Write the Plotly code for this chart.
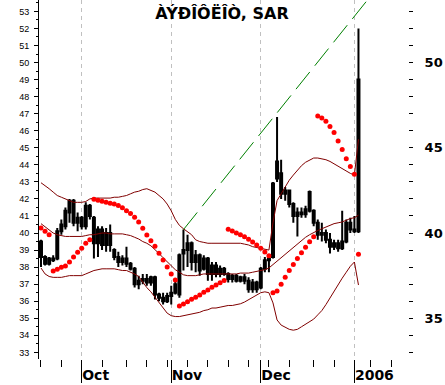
import plotly.graph_objects as go

title_text = "ÀÝÐÎÔËÎÒ, SAR"

opens = [39.5, 38.6, 38.2, 38.5, 38.5, 40.1, 40.4, 41.2, 41.9, 40.6,
         40.9, 40.4, 41.6, 40.9, 39.4, 40.2, 39.3, 40.0, 39.0, 38.6,
         38.3, 38.5, 38.2, 37.9, 37.0, 37.2, 37.3, 37.1, 37.4, 36.4,
         36.2, 36.0, 36.3, 36.5, 36.4, 38.8, 39.0, 39.4, 38.3, 38.7,
         37.9, 38.5, 37.6, 38.1, 37.6, 37.9, 37.6, 37.3, 37.5, 37.2,
         37.4, 37.2, 36.7, 37.1, 36.8, 37.9, 38.4, 38.6, 44.2, 43.5,
         42.3, 42.5, 41.7, 41.0, 41.2, 41.1, 42.4, 41.3, 40.6, 39.9,
         40.0, 39.6, 39.2, 39.4, 39.1, 39.5, 40.6, 40.2, 40.1]
highs = [39.6, 38.7, 38.6, 38.7, 40.3, 40.8, 41.5, 42.0, 42.0, 41.2,
         41.0, 41.8, 41.7, 41.0, 40.4, 40.4, 40.3, 40.5, 39.1, 38.9,
         38.7, 39.2, 38.3, 38.0, 37.5, 37.6, 37.6, 37.5, 37.5, 36.5,
         36.5, 36.5, 36.9, 37.2, 38.8, 40.2, 39.9, 39.5, 39.0, 38.8,
         38.7, 38.6, 38.3, 38.3, 38.1, 38.0, 37.7, 37.6, 37.6, 37.5,
         37.6, 37.4, 37.3, 37.2, 38.0, 38.6, 38.6, 43.0, 46.8, 44.3,
         42.7, 42.5, 41.8, 41.5, 41.5, 41.6, 42.5, 41.4, 40.8, 40.6,
         40.2, 40.0, 39.6, 39.6, 41.3, 40.8, 40.9, 41.0, 52.0]
lows = [38.0, 38.1, 38.1, 38.3, 38.4, 39.9, 40.2, 40.6, 40.4, 40.1,
        40.2, 40.2, 40.8, 38.5, 38.6, 39.0, 38.9, 38.9, 38.4, 38.0,
        38.1, 38.0, 37.8, 36.8, 36.7, 37.0, 36.9, 36.9, 36.1, 36.0,
        35.8, 35.9, 35.8, 36.4, 36.2, 37.8, 38.0, 37.8, 37.7, 37.5,
        37.8, 37.2, 37.2, 37.4, 37.4, 37.5, 37.1, 37.1, 37.1, 37.1,
        37.0, 36.5, 36.5, 36.5, 36.7, 37.7, 37.7, 38.5, 43.0, 42.0,
        41.9, 41.5, 40.6, 39.8, 40.9, 40.9, 41.2, 40.4, 39.6, 39.5,
        39.4, 38.8, 39.0, 38.9, 39.0, 39.4, 40.0, 40.0, 40.0]
closes = [38.6, 38.2, 38.5, 38.4, 40.1, 40.5, 41.3, 41.9, 40.6, 40.9,
          40.4, 41.6, 41.0, 39.4, 40.2, 39.3, 40.0, 39.3, 38.6, 38.3,
          38.5, 38.2, 37.9, 37.0, 37.2, 37.3, 37.1, 37.4, 36.4, 36.2,
          36.0, 36.3, 36.5, 37.0, 38.7, 39.0, 39.4, 38.3, 38.7, 37.8,
          38.5, 37.6, 38.1, 37.6, 37.9, 37.6, 37.3, 37.5, 37.2, 37.4,
          37.2, 36.7, 37.1, 36.7, 37.9, 38.4, 38.5, 42.9, 43.2, 42.3,
          42.5, 41.7, 41.0, 41.2, 41.1, 41.4, 41.3, 40.6, 39.9, 40.0,
          39.6, 39.2, 39.4, 39.1, 39.5, 40.6, 40.2, 40.1, 49.0]

bb_upper = [42.95, 42.8, 42.6, 42.4, 42.2, 42.1, 42.0, 41.9, 41.8, 41.8,
            41.8, 41.85, 42.0, 42.05, 42.05, 42.05, 42.05, 42.05, 42.1, 42.1,
            42.15, 42.2, 42.3, 42.4, 42.45, 42.55, 42.6, 42.5, 42.4, 42.2,
            42.0, 41.7, 41.3, 40.8, 40.45, 40.25, 40.1, 39.9, 39.6, 39.5,
            39.45, 39.4, 39.4, 39.4, 39.4, 39.4, 39.4, 39.4, 39.4, 39.4,
            39.35, 39.3, 39.2, 39.15, 39.1, 39.05, 39.0, 40.6, 41.9, 42.3,
            42.7, 43.1, 43.4, 43.7, 43.95, 44.15, 44.3, 44.4, 44.4, 44.35,
            44.3, 44.2, 44.05, 43.95, 43.8, 43.6, 43.5, 43.4, 45.5]
bb_middle = [40.55, 40.35, 40.15, 40.0, 39.9, 39.85, 39.8, 39.8, 39.8, 39.8,
             39.8, 39.85, 39.9, 39.9, 39.95, 40.0, 40.0, 39.95, 39.95, 39.95,
             39.95, 39.9, 39.85, 39.75, 39.65, 39.5, 39.4, 39.25, 39.05, 38.8,
             38.55, 38.3, 38.05, 37.85, 37.7, 37.55, 37.5, 37.5, 37.5, 37.55,
             37.6, 37.6, 37.6, 37.6, 37.6, 37.6, 37.6, 37.6, 37.6, 37.65,
             37.65, 37.65, 37.7, 37.75, 37.8, 37.85, 37.95, 38.15, 38.4, 38.6,
             38.8, 39.0, 39.2, 39.4, 39.6, 39.75, 39.9, 40.05, 40.15, 40.25,
             40.35, 40.45, 40.55, 40.6, 40.65, 40.75, 40.85, 40.9, 41.05]
bb_lower = [37.95, 37.6, 37.45, 37.4, 37.4, 37.4, 37.45, 37.5, 37.5, 37.5,
            37.5, 37.6, 37.7, 37.8, 37.85, 37.9, 37.9, 37.9, 37.9, 37.85,
            37.8, 37.8, 37.7, 37.6, 37.45, 37.1, 36.8, 36.55, 36.25, 35.9,
            35.6, 35.3, 35.15, 35.1, 35.1, 35.15, 35.2, 35.25, 35.3, 35.35,
            35.45, 35.5, 35.6, 35.6, 35.65, 35.7, 35.75, 35.75, 35.8, 35.85,
            35.95, 36.1, 36.25, 36.35, 36.5, 36.55, 36.5, 35.9, 34.9, 34.6,
            34.45, 34.35, 34.3, 34.35, 34.5, 34.65, 34.8, 34.95, 35.2, 35.45,
            35.8, 36.2, 36.6, 37.0, 37.35, 37.7, 38.05, 38.3, 36.95]

sar = [40.3, 40.1, 39.9,
       37.77, 37.87, 37.99, 38.06, 38.3, 38.6, 38.87, 39.1, 39.4, 39.6,
       41.98, 41.92, 41.86, 41.8, 41.75, 41.7, 41.62, 41.48, 41.3, 41.15,
       40.92, 40.65, 40.28, 39.88, 39.55, 39.22, 38.82, 38.42, 38.0, 37.6, 37.25,
       35.72, 35.83, 35.97, 36.11, 36.23, 36.36, 36.52, 36.66, 36.82, 36.95,
       37.08, 37.22,
       40.22, 40.12, 40.0, 39.9, 39.78, 39.64, 39.48, 39.3, 39.1, 38.88, 38.67,
       36.5, 36.6, 37.0, 37.4, 37.8, 38.16, 38.5, 38.85, 39.16, 39.49, 39.78,
       46.86, 46.75, 46.55, 46.25, 45.9, 45.4, 44.9, 44.35, 43.9, 43.45,
       38.75]

trend_x = [35, 84]
trend_y = [40.2, 54.8]

month_pos = [10, 32, 54, 77]
month_labels = ["Oct", "Nov", "Dec", "2006"]
week_pos = [0, 5, 10, 15, 21, 26, 31, 36, 41, 46, 51, 56, 61, 67, 72, 77, 81, 86]
right_labels = [35, 40, 45, 50]
right_minor = list(range(33, 54))

idx = list(range(len(opens)))

fig = go.Figure()
fig.add_trace(go.Candlestick(
    x=idx, open=opens, high=highs, low=lows, close=closes,
    increasing=dict(line=dict(color="black", width=2), fillcolor="white"),
    decreasing=dict(line=dict(color="black", width=2), fillcolor="black"),
    whiskerwidth=0, showlegend=False, hoverinfo="skip"))
for band in (bb_upper, bb_middle, bb_lower):
    fig.add_trace(go.Scatter(x=idx, y=band, mode="lines",
                             line=dict(color="#800000", width=1),
                             showlegend=False, hoverinfo="skip"))
fig.add_trace(go.Scatter(x=idx, y=sar, mode="markers",
                         marker=dict(color="#ff0000", size=5, symbol="circle",
                                     line=dict(width=0)),
                         showlegend=False, hoverinfo="skip"))
fig.add_trace(go.Scatter(x=trend_x, y=trend_y, mode="lines",
                         line=dict(color="#008000", width=1, dash="22px,8px"),
                         showlegend=False, hoverinfo="skip"))
fig.add_trace(go.Scatter(x=idx[:1], y=closes[:1], mode="markers",
                         marker=dict(opacity=0), yaxis="y2",
                         showlegend=False, hoverinfo="skip"))

yr = [32.61, 53.67]
fig.update_layout(
    width=445, height=385, autosize=False,
    margin=dict(l=39, r=37, t=0, b=26, pad=0, autoexpand=False),
    paper_bgcolor="white", plot_bgcolor="white",
    title=dict(text=title_text, x=0.496, xref="paper", y=1 - 13 / 385,
               yref="container", xanchor="center", yanchor="middle",
               automargin=False,
               font=dict(family="DejaVu Sans", size=16, color="black", weight="bold")),
    xaxis=dict(range=[-0.49, 90.17], tickmode="array", tickvals=month_pos,
               ticktext=month_labels, ticks="outside", ticklen=23, tickwidth=1,
               tickcolor="black", showgrid=True, gridcolor="#c0c0c0",
               griddash="4px,4px", gridwidth=1, zeroline=False, showline=False,
               automargin=False,
               ticklabelposition="outside right", ticklabelstandoff=3,
               tickfont=dict(family="DejaVu Sans", size=14, color="black", weight="bold"),
               minor=dict(tickmode="array", tickvals=week_pos, ticks="outside",
                          ticklen=7, tickcolor="black", tickwidth=1, showgrid=False),
               rangeslider=dict(visible=False), fixedrange=True),
    yaxis=dict(range=yr, tickmode="linear", tick0=33, dtick=1, ticks="outside",
               ticklen=4, tickcolor="black", showline=True, linecolor="black",
               linewidth=1, showgrid=False, zeroline=False, automargin=False,
               tickfont=dict(family="Liberation Sans, Arial", size=9, color="black"),
               ticklabelstandoff=3,
               minor=dict(tick0=33, dtick=0.5, ticks="outside", ticklen=2,
                          tickcolor="black", showgrid=False),
               fixedrange=True),
    yaxis2=dict(range=yr, overlaying="y", side="right", tickmode="array",
                tickvals=right_labels, ticks="outside", ticklen=4,
                tickcolor="black", showline=False, showgrid=False, zeroline=False,
                automargin=False,
                tickfont=dict(family="DejaVu Sans", size=13, color="black", weight="bold"),
                ticklabelstandoff=9,
                minor=dict(tickmode="array", tickvals=right_minor, ticks="outside",
                           ticklen=4, tickcolor="black", showgrid=False),
                fixedrange=True),
)

fig.write_html("out.html", config={"displayModeBar": False},
               post_script="document.body.style.margin='0';document.body.style.padding='0';")
